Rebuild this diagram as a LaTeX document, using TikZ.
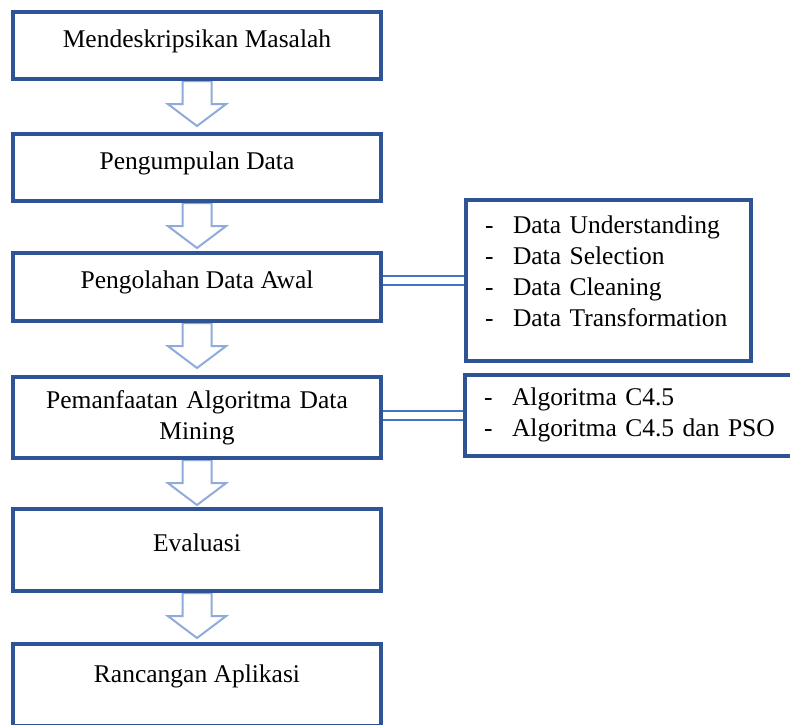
\documentclass[tikz,border=0pt]{standalone}
\usepackage{fontspec}
\setmainfont{Liberation Serif}
\usetikzlibrary{shapes.arrows,positioning,backgrounds}
\definecolor{frameblue}{HTML}{2F5496}
\definecolor{arrowblue}{HTML}{8FAADC}
\definecolor{linkblue}{HTML}{4472C4}
\tikzset{
    stage/.style={draw=frameblue, line width=4pt, minimum width=368pt, minimum height=67pt,
        inner xsep=8pt, text height=18pt, text depth=15pt, font=\fontsize{25.5pt}{31pt}\selectfont},
    notes/.style={draw=frameblue, line width=4pt, inner xsep=19pt, inner ysep=4pt, align=left,
        text height=18pt, font=\fontsize{25.5pt}{31pt}\selectfont},
    hollow/.style={single arrow, draw=arrowblue, fill=white, line width=2pt, inner sep=13.5pt,
        minimum width=56pt, minimum height=45pt, single arrow head extend=14.5pt,
        single arrow tip angle=106, shape border rotate=270, anchor=tail},
    twin/.style={draw=linkblue, line width=1.5pt, double=white, double distance=7.5pt}
}
\newcommand{\listdash}{\makebox[28pt][l]{-}}

\begin{document}
\begin{tikzpicture}[x=1pt,y=-1pt]
    \useasboundingbox (0,0) rectangle (790,724);
    \clip (0,0) rectangle (790,724);
    % Stages of the research
    \node[stage,anchor=north west] (describe) at (11,10) {Mendeskripsikan Masalah};
    \node[stage] (collect) [below=51pt of describe] {Pengumpulan Data};
    \node[stage,minimum height=68pt] (prepare) [below=48pt of collect] {Pengolahan Data Awal};
    \node[stage,minimum height=81pt,text width=352pt,align=center,text depth=37pt] (mining) [below=52pt of prepare] {Pemanfaatan Algoritma Data\\Mining};
    \node[stage,minimum height=82pt] (evaluate) [below=47pt of mining] {Evaluasi};
    \node[stage,minimum height=82pt,text depth=24pt] (design) [below=49pt of evaluate] {Rancangan Aplikasi};
    % Details beside the stages
    \node[notes,text width=247pt,minimum height=161pt,text depth=113pt] (steps) [right=81pt of prepare,yshift=6.5pt] {\listdash Data Understanding\\\listdash Data Selection\\\listdash Data Cleaning\\\listdash Data Transformation};
    \node[notes,text width=300pt,minimum height=81pt,text depth=39pt] (algos) [right=80pt of mining,yshift=2pt] {\listdash Algoritma C4.5\\\listdash Algoritma C4.5 dan PSO};
    \draw[twin] (steps.west -| prepare.east) -- (steps.west);
    \draw[twin] (algos.west -| mining.east) -- (algos.west);
    % Hollow arrows between the stages
    \begin{pgfonlayer}{background}
        \node[hollow] (arrow1) at ([yshift=1pt]describe.south) {};
        \node[hollow] (arrow2) at ([yshift=1pt]collect.south) {};
        \node[hollow] (arrow3) at ([yshift=1pt]prepare.south) {};
        \node[hollow] (arrow4) at ([yshift=1pt]mining.south) {};
        \node[hollow] (arrow5) at ([yshift=1pt]evaluate.south) {};
    \end{pgfonlayer}
\end{tikzpicture}
\end{document}
